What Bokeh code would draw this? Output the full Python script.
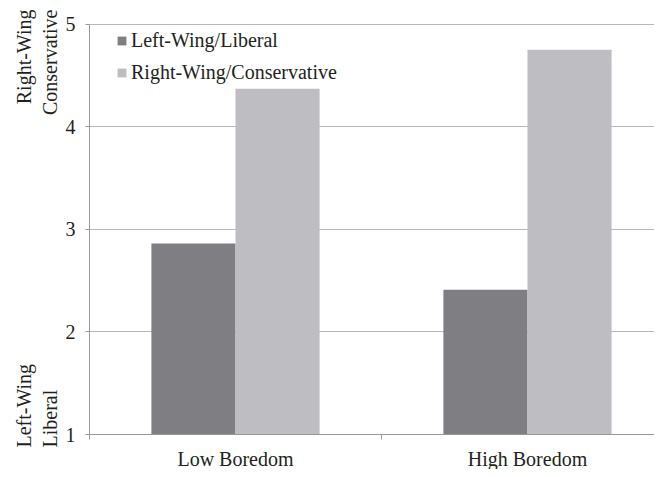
from bokeh.plotting import figure
from bokeh.models import (ColumnDataSource, Range1d, FixedTicker, Legend, LegendItem)
from bokeh.core.properties import value
from bokeh.transform import dodge
from bokeh.embed import file_html
from bokeh.resources import INLINE
import math

# ---- data ----
categories = ["Low Boredom", "High Boredom"]
left_wing = [2.86, 2.41]
right_wing = [4.37, 4.75]
series_names = ["Left-Wing/Liberal", "Right-Wing/Conservative"]
y_ticks = [1, 2, 3, 4, 5]
y_caption_top = "Right-Wing\nConservative"
y_caption_bottom = "Left-Wing\nLiberal"

# ---- layout constants (pixels) ----
W, H = 654, 469
AX_X = 89.0          # y-axis screen x
Y5_PX = 23.5         # screen y of value 5
Y1_PX = 434.0        # screen y of value 1
CAT_PX = 292.0       # width of one category
PX_Y = (Y1_PX - Y5_PX) / 4.0
FONT = "Liberation Serif"
TXT = "#231f20"
DARK = "#7f7f83"
LIGHT = "#bebec2"
AXC = "#989898"
GRIDC = "#b8b8b8"

x_start = -AX_X / CAT_PX
x_end = (W - AX_X) / CAT_PX
y_end = 5 + Y5_PX / PX_Y
y_start = 1 - (H - Y1_PX) / PX_Y

def sx(px):
    return (px - AX_X) / CAT_PX

def sy(py):
    return 5 + (Y5_PX - py) / PX_Y

centers = [i + 0.5 for i in range(len(categories))]
src = ColumnDataSource(dict(x=centers, lw=left_wing, rw=right_wing))

p = figure(width=W, height=H, output_backend="svg", toolbar_location=None,
           x_range=Range1d(x_start, x_end), y_range=Range1d(y_start, y_end),
           min_border=0, background_fill_color="white",
           border_fill_color="white")
p.outline_line_color = None

bw = 0.288
r1 = p.vbar(x=dodge("x", -bw / 2, range=p.x_range), top="lw", bottom=1, width=bw,
            source=src, fill_color=DARK, line_color=None)
r2 = p.vbar(x=dodge("x", bw / 2, range=p.x_range), top="rw", bottom=1, width=bw,
            source=src, fill_color=LIGHT, line_color=None)

# axes
p.xgrid.visible = False
xa = p.xaxis[0]
xa.fixed_location = 1
xa.bounds = (0, x_end)
xa.ticker = FixedTicker(ticks=centers, minor_ticks=[0, 1, 2])
xa.major_label_overrides = {c: n for c, n in zip(centers, categories)}
xa.major_tick_out = 0
xa.major_tick_in = 0
xa.minor_tick_out = 5
xa.minor_tick_in = 0
xa.minor_tick_line_color = AXC
xa.axis_line_color = AXC
xa.major_label_text_font = FONT
xa.major_label_text_font_size = "20px"
xa.major_label_text_color = TXT
xa.major_label_standoff = 8

ya = p.yaxis[0]
ya.fixed_location = 0
ya.bounds = (1, 5)
ya.ticker = FixedTicker(ticks=y_ticks)
ya.major_tick_out = 4
ya.major_tick_in = 0
ya.minor_tick_out = 0
ya.minor_tick_in = 0
ya.major_tick_line_color = AXC
ya.axis_line_color = AXC
ya.major_label_text_font = FONT
ya.major_label_text_font_size = "20px"
ya.major_label_text_color = TXT
ya.major_label_standoff = 10

yg = p.ygrid[0]
yg.ticker = FixedTicker(ticks=y_ticks)
yg.grid_line_color = GRIDC
try:
    yg.cross_bounds = (0, x_end)
except Exception:
    yg.visible = False
    ya.major_tick_in = int(W - AX_X) + 2
    ya.major_tick_line_color = GRIDC
    ya.level = "underlay"

# rotated y captions
p.text(x=[sx(12)], y=[sy(9)], text=[y_caption_top], angle=math.pi / 2,
       text_align="right", text_baseline="top", text_font=value(FONT),
       text_font_size="20px", text_color=TXT, text_line_height=1.2)
p.text(x=[sx(12)], y=[sy(447)], text=[y_caption_bottom], angle=math.pi / 2,
       text_align="left", text_baseline="top", text_font=value(FONT),
       text_font_size="20px", text_color=TXT, text_line_height=1.2)

# legend
legend = Legend(items=[LegendItem(label=series_names[0], renderers=[r1]),
                       LegendItem(label=series_names[1], renderers=[r2])],
                location=(116, H - 84), orientation="vertical",
                glyph_width=11, glyph_height=11, label_standoff=4,
                label_text_font=FONT, label_text_font_size="20px",
                label_text_color=TXT, label_height=22, spacing=9,
                padding=0, margin=0, border_line_color=None,
                background_fill_alpha=0)
p.add_layout(legend)

open("out.html", "w").write(file_html(p, INLINE))
